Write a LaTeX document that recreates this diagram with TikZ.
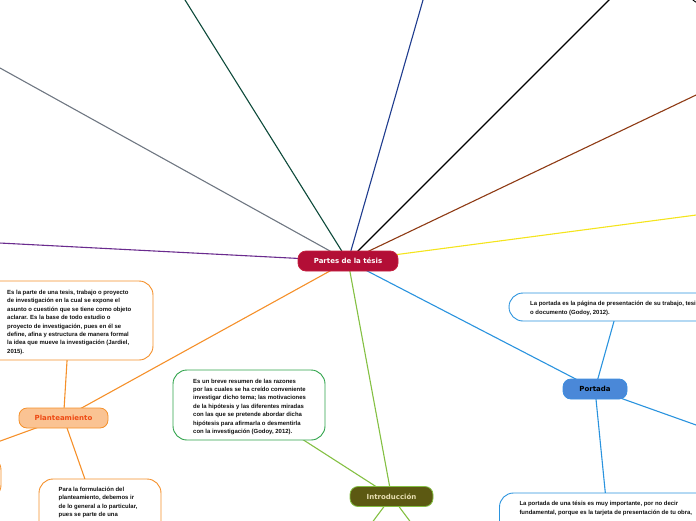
\documentclass[tikz,border=0pt]{standalone}
\usepackage{fontspec}
\setmainfont{Liberation Sans}
\newfontfamily\headfont{DejaVu Sans}
\usetikzlibrary{backgrounds}
\definecolor{crim}{HTML}{B30E36}
\definecolor{crimb}{HTML}{C4203F}
\definecolor{orng}{HTML}{F5902A}
\definecolor{plfill}{HTML}{FAC393}
\definecolor{pltext}{HTML}{EE4A14}
\definecolor{bluef}{HTML}{4A88D8}
\definecolor{blueb}{HTML}{3D8EE0}
\definecolor{bluel}{HTML}{2A93DE}
\definecolor{oliv}{HTML}{5C5912}
\definecolor{limeg}{HTML}{84C043}
\definecolor{beig}{HTML}{E8DFB2}
\definecolor{grn}{HTML}{2FA34A}
\definecolor{greyl}{HTML}{6F7782}
\definecolor{dgreen}{HTML}{0D4A3A}
\definecolor{navy}{HTML}{1F3C8E}
\definecolor{brwn}{HTML}{8E3A14}
\definecolor{yell}{HTML}{F4E41C}
\definecolor{purp}{HTML}{6A2B8E}
\definecolor{txt}{HTML}{111111}
\begin{document}
\begin{tikzpicture}[x=1pt,y=-1pt,
  head/.style={rounded corners=8pt, minimum height=20pt, inner sep=0pt,
    font=\headfont\bfseries\fontsize{7}{8}\selectfont, line width=0.8pt},
  ebox/.style={rounded corners=14pt, line width=0.9pt, fill=white},
  ttext/.style={anchor=north west, inner sep=0pt, align=left,
    font=\bfseries\fontsize{5.95}{8.4}\selectfont, text=txt},
  conn/.style={line width=1.1pt},
]
\useasboundingbox (0,0) rectangle (696,520);
\clip (0,0) rectangle (696,520);

% main topics
\node[head, fill=crim, draw=crimb, text=white, minimum width=100pt] (c) at (348,261) {Partes de la tésis};
\node[head, fill=plfill, draw=orng, text=pltext, minimum width=89pt] (pl) at (63.5,418) {Planteamiento};
\node[head, fill=bluef, draw=blueb, text=black, minimum width=64pt] (po) at (595,389) {Portada};
\node[head, fill=oliv, draw=limeg, text=beig, minimum width=83pt] (in) at (391.5,496.5) {Introducción};

% text boxes
\node[ebox, draw=orng, minimum width=167pt, minimum height=79pt] (b1) at (69.5,320.5) {};
\node[ttext] (t1) at (7,290)
{Es la parte de una tesis, trabajo o proyecto\\
de investigación en la cual se expone el\\
asunto o cuestión que se tiene como objeto\\
aclarar. Es la base de todo estudio o\\
proyecto de investigación, pues en él se\\
define, afina y estructura de manera formal\\
la idea que mueve la investigación (Jardiel,\\
2015).};

\node[ebox, draw=grn, minimum width=152pt, minimum height=70pt] (b2) at (249,405) {};
\node[ttext] (t2) at (193,378.5)
{Es un breve resumen de las razones\\
por las cuales se ha creído conveniente\\
investigar dicho tema; las motivaciones\\
de la hipótesis y las diferentes miradas\\
con las que se pretende abordar dicha\\
hipótesis para afirmarla o desmentirla\\
con la investigación (Godoy, 2012).};

\node[ebox, draw=bluel, minimum width=218pt, minimum height=28pt] (b3) at (618,307) {};
\node[ttext] (t3) at (530,301.3)
{La portada es la página de presentación de su trabajo, tesis\\
o documento (Godoy, 2012).};

\node[ebox, draw=bluel, minimum width=219pt, minimum height=74pt] (b4) at (609,530) {};
\node[ttext] (t4) at (519.3,501.3)
{La portada de una tésis es muy importante, por no decir\\
fundamental, porque es la tarjeta de presentación de tu obra,};

\node[ebox, draw=orng, minimum width=122pt, minimum height=86pt] (b5) at (100,522) {};
\node[ttext] (t5) at (58.5,487)
{Para la formulación del\\
planteamiento, debemos ir\\
de lo general a lo particular,\\
pues se parte de una};

\node[ebox, draw=orng, minimum width=202pt, minimum height=43pt] (b6) at (-100,477.5) {};

\node[ebox, draw=black, rounded corners=10pt, minimum width=140pt, minimum height=66pt] (tr) at (760,-30) {};

% free ends
\coordinate (eg) at (-20,56.9);
\coordinate (edg) at (178.8,-10);
\coordinate (env) at (425.9,-10);
\coordinate (ebk) at (619,-10);
\coordinate (ebr) at (716,85.5);
\coordinate (eye) at (716,212.4);
\coordinate (epu) at (-20,242);
\coordinate (ei1) at (359.1,540);
\coordinate (ei2) at (423.9,540);
\coordinate (epo) at (716,432.1);

\begin{pgfonlayer}{background}
\draw[conn, greyl] (c.center) -- (eg);
\draw[conn, dgreen] (c.center) -- (edg);
\draw[conn, navy] (c.center) -- (env);
\draw[conn, black] (c.center) -- (ebk);
\draw[conn, brwn] (c.center) -- (ebr);
\draw[conn, yell] (c.center) -- (eye);
\draw[conn, purp] (c.center) -- (epu);
\draw[conn, orng] (c.center) -- (pl.center);
\draw[conn, limeg] (c.center) -- (in.center);
\draw[conn, bluel] (c.center) -- (po.center);
\draw[conn, orng] (b1.center) -- (pl.center);
\draw[conn, orng] (pl.center) -- (b5.center);
\draw[conn, orng] (pl.center) -- (b6.center);
\draw[conn, limeg] (b2.center) -- (in.center);
\draw[conn, limeg] (in.center) -- (ei1);
\draw[conn, limeg] (in.center) -- (ei2);
\draw[conn, bluel] (po.center) -- (b3.center);
\draw[conn, bluel] (po.center) -- (b4.center);
\draw[conn, bluel] (po.center) -- (epo);
\end{pgfonlayer}
\end{tikzpicture}
\end{document}
